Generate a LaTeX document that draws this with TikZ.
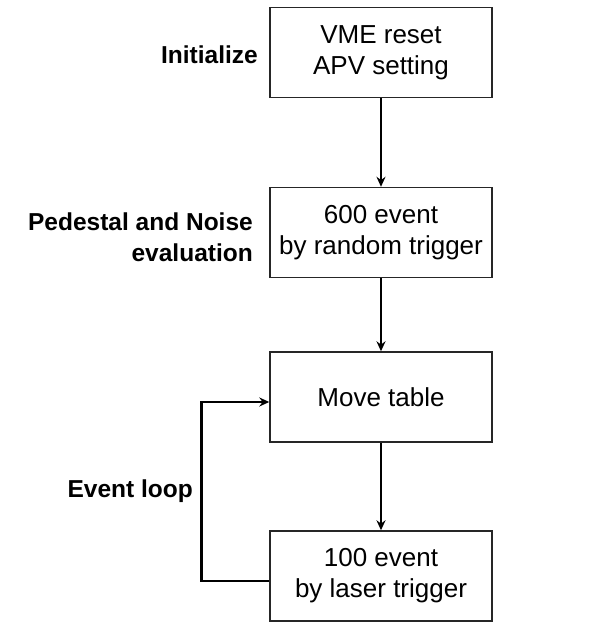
\documentclass[tikz,border=0pt]{standalone}
\usepackage{fontspec}
\setmainfont{Liberation Sans}
\usetikzlibrary{arrows.meta,calc}
\begin{document}
\begin{tikzpicture}[x=1pt,y=1pt,
  stepbox/.style={draw=black!85, line width=1.4pt, minimum width=222pt, minimum height=90pt,
     align=center, inner sep=0pt, font=\fontsize{26}{31}\selectfont},
  sidelabel/.style={anchor=east, align=right, inner sep=0pt, font=\bfseries\fontsize{24.5}{31}\selectfont},
  flow/.style={draw=black, line width=2.4pt, -{Stealth[length=10pt,width=9pt]}}]
\useasboundingbox (0,0) rectangle (605,622);
\fill[white] (0,0) rectangle (605,622);
\node[stepbox] (b1) at (381,569.5) {VME reset\\APV setting};
\node[stepbox] (b2) at (381,389.5) {600 event\\by random trigger};
\node[stepbox] (b3) at (381,225) {Move table};
\node[stepbox] (b4) at (381,46) {100 event\\by laser trigger};
\node[sidelabel] (l1) at (258,567) {Initialize};
\node[sidelabel] (l2) at (253,385) {Pedestal and Noise\\evaluation};
\node[sidelabel] (l3) at (193,131) {Event loop};
\draw[flow] (b1) -- (b2);
\draw[flow] (b2) -- (b3);
\draw[flow] (b3) -- (b4);
\draw[flow] ([yshift=-5pt]b4.west) -- ++(-68,0) |- ([yshift=-5pt]b3.west);
\end{tikzpicture}
\end{document}
